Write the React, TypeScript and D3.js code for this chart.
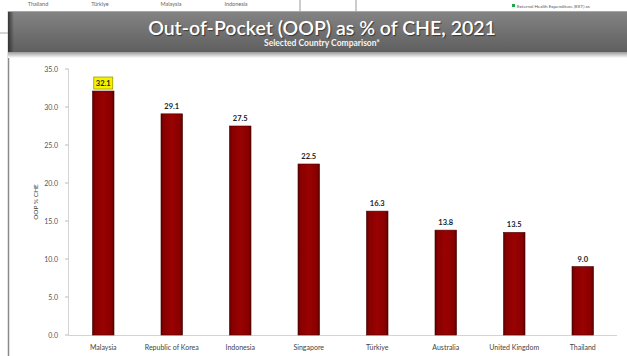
import React from "react";
import * as d3 from "d3";

const countries = ["Malaysia", "Republic of Korea", "Indonesia", "Singapore", "Türkiye", "Australia", "United Kingdom", "Thailand"];
const oopValues = [32.1, 29.1, 27.5, 22.5, 16.3, 13.8, 13.5, 9.0];
const yTicks = [0, 5, 10, 15, 20, 25, 30, 35];
const topStripLabels = ["Thailand", "Türkiye", "Malaysia", "Indonesia"];
const topStripX = [38, 100, 171, 236];
const title = "Out-of-Pocket (OOP) as % of CHE, 2021";
const subtitle = "Selected Country Comparison*";
const yTitle = "OOP % CHE";
const legendText = "External Health Expenditure (EXT) as";

const W = 627;
const H = 356;
const FONT = "Lato, 'Open Sans', sans-serif";

export default function App() {
  const x = d3.scaleBand<string>().domain(countries).range([69, 617]).paddingInner(0.686).paddingOuter(0.343);
  const y = d3.scaleLinear().domain([0, 35]).range([335, 69]);
  const fmt = d3.format(".1f");

  return (
    <svg width={W} height={H} style={{ position: "fixed", left: 0, top: 0, background: "#fff" }} fontFamily={FONT}>
      <defs>
        <linearGradient id="barGrad" x1="0" x2="1" y1="0" y2="0">
          <stop offset="0%" stopColor="#5a0000" />
          <stop offset="12%" stopColor="#880000" />
          <stop offset="50%" stopColor="#990202" />
          <stop offset="88%" stopColor="#880000" />
          <stop offset="100%" stopColor="#560000" />
        </linearGradient>
        <linearGradient id="hdrGrad" x1="0" x2="0" y1="0" y2="1">
          <stop offset="0%" stopColor="#838383" />
          <stop offset="100%" stopColor="#5f5f5f" />
        </linearGradient>
        <linearGradient id="hdrLeft" x1="0" x2="1" y1="0" y2="0">
          <stop offset="0%" stopColor="#2e2e2e" stopOpacity="0.9" />
          <stop offset="100%" stopColor="#2e2e2e" stopOpacity="0" />
        </linearGradient>
        <linearGradient id="shadowGrad" x1="0" x2="0" y1="0" y2="1">
          <stop offset="0%" stopColor="#9a9a9a" />
          <stop offset="100%" stopColor="#ffffff" />
        </linearGradient>
      </defs>

      {/* top strip (content above the chart) */}
      <rect x={0} y={0} width={W} height={12} fill="#fff" />
      {topStripLabels.map((t, i) => (
        <text key={t} x={topStripX[i]} y={6} fontSize={5.5} fill="#666" textAnchor="middle">{t}</text>
      ))}
      <line x1={300} x2={300} y1={0} y2={11} stroke="#999" strokeWidth={1} />
      <line x1={356} x2={356} y1={0} y2={11} stroke="#999" strokeWidth={1} />
      <rect x={512} y={4} width={3} height={3} fill="#1aa84a" />
      <text x={517} y={7.5} fontSize={4.5} fill="#555">{legendText}</text>
      <line x1={0} x2={8} y1={33} y2={33} stroke="#aaa" strokeWidth={1} />

      {/* panel border */}
      <rect x={8.5} y={12} width={W} height={H} fill="#fff" stroke="#8a8a8a" strokeWidth={1.5} />

      {/* header */}
      <rect x={8} y={12} width={W - 8} height={40} fill="url(#hdrGrad)" />
      <rect x={8} y={12} width={6} height={40} fill="url(#hdrLeft)" />
      <rect x={8} y={52} width={W - 8} height={6} fill="url(#shadowGrad)" />
      <text x={322} y={35} textAnchor="middle" fontSize={19.5} fontWeight={600} fill="#fff" style={{ textShadow: "1px 1px 1px rgba(0,0,0,0.5)" }}>{title}</text>
      <text x={322} y={46} textAnchor="middle" fontSize={8.5} fontWeight={700} fill="#f4f4f4">{subtitle}</text>

      {/* y axis */}
      <line x1={68.5} x2={68.5} y1={y(35)} y2={y(0)} stroke="#d4d4d4" strokeWidth={1} />
      {yTicks.map((t) => (
        <g key={t}>
          <line x1={65} x2={68.5} y1={y(t)} y2={y(t)} stroke="#bbb" strokeWidth={1} />
          <text x={58} y={y(t) + 2.5} fontSize={7} textAnchor="end" fill="#555">{fmt(t)}</text>
        </g>
      ))}
      <text transform={`translate(38,${y(17.5)}) rotate(-90)`} fontSize={6.5} textAnchor="middle" fill="#444">{yTitle}</text>

      {/* baseline */}
      <line x1={68} x2={617} y1={335.5} y2={335.5} stroke="#d4d4d4" strokeWidth={1} />

      {/* bars */}
      {countries.map((c, i) => {
        const bx = x(c)!;
        const bw = x.bandwidth();
        const top = y(oopValues[i]);
        const cx = bx + bw / 2;
        const isHighlight = i === 0;
        return (
          <g key={c}>
            <rect x={bx} y={top} width={bw} height={y(0) - top} fill="url(#barGrad)" stroke="#4a0000" strokeWidth={0.6} />
            {isHighlight && (
              <rect x={cx - 9.5} y={top - 14} width={19} height={12} fill="#f5f200" stroke="#9a9a00" strokeWidth={0.8} />
            )}
            <text x={cx} y={top - 5} fontSize={7.5} fontWeight={700} textAnchor="middle" fill="#222">{fmt(oopValues[i])}</text>
            <text x={cx} y={350} fontSize={7} textAnchor="middle" fill="#444">{c}</text>
          </g>
        );
      })}
    </svg>
  );
}
